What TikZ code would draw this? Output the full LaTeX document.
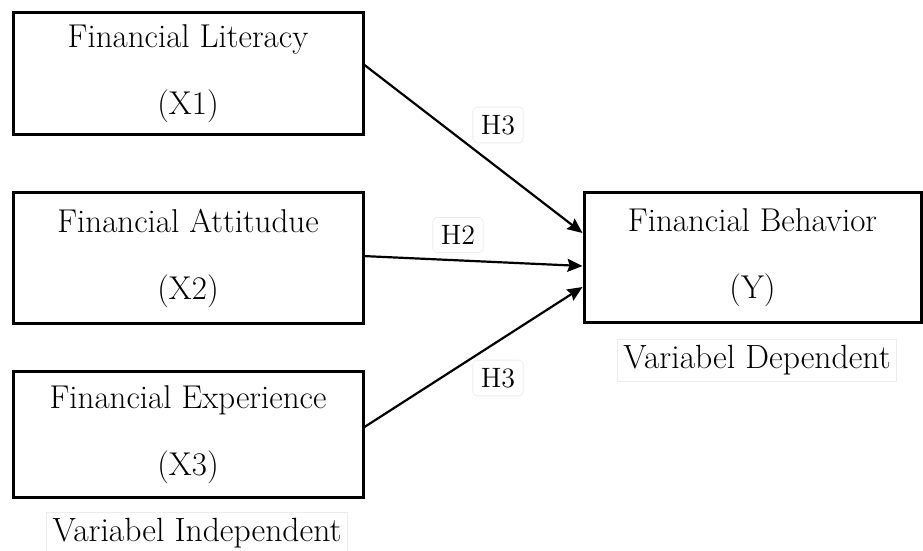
\documentclass[tikz,border=0pt]{standalone}
\usepackage{tikz}
\usetikzlibrary{positioning,arrows.meta}

\begin{document}
\begin{tikzpicture}[x=0.5pt, y=-0.5pt,
  every node/.style={font=\fontsize{16.5}{33.5}\selectfont},
  var/.style={draw, line width=1.5pt, rectangle, align=center, inner sep=0pt},
  hyp/.style={-{Stealth[length=7.5pt, width=6.5pt, inset=1pt]}, line width=1.1pt},
  lab/.style={draw=black!7, rounded corners=2pt, inner sep=4pt, font=\fontsize{14}{16}\selectfont},
  side/.style={draw=black!7, inner sep=3pt, font=\fontsize{16.8}{19}\selectfont}]
\useasboundingbox (0,0) rectangle (923,551);
% independent variables
\node[var, minimum width=175pt, minimum height=61pt] (lit) at (188,74) {Financial Literacy\\(X1)};
\node[var, minimum width=175pt, minimum height=65.5pt] (att) at (188,258.5) {Financial Attitudue\\(X2)};
\node[var, minimum width=175pt, minimum height=63pt] (exp) at (188,435) {Financial Experience\\(X3)};
% dependent variable
\node[var, minimum width=168.5pt, minimum height=65pt] (beh) at (752.5,258) {Financial Behavior\\(Y)};
\node[side] (dep) at (757,360) {Variabel Dependent};
\node[side] (indep) at (197,533) {Variabel Independent};
% hypotheses
\node[lab] (h1) at (498,125) {H3};
\node[lab] (h2) at (458,235) {H2};
\node[lab] (h3) at (498,378) {H3};
\draw[hyp] ([yshift=4.5pt]lit.east) -- ([yshift=12.5pt]beh.west);
\draw[hyp] ([yshift=1.2pt]att.east) -- ([yshift=-4pt]beh.west);
\draw[hyp] ([yshift=4pt]exp.east) -- ([yshift=-14.5pt]beh.west);
\end{tikzpicture}
\end{document}
